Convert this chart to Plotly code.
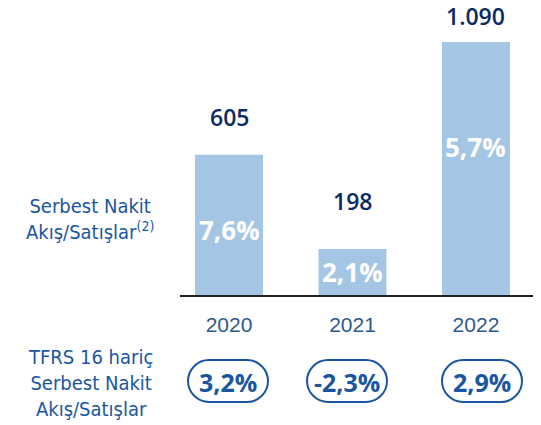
import plotly.graph_objects as go

years = ["2020", "2021", "2022"]
fcf_values = [605, 198, 1090]
fcf_labels = ["605", "198", "1.090"]
fcf_sales = ["7,6%", "2,1%", "5,7%"]
excl_tfrs16 = ["3,2%", "-2,3%", "2,9%"]
row_label_1 = "Serbest Nakit<br>Akış/Satışlar<sup>(2)</sup>"
row_label_2 = "TFRS 16 hariç<br>Serbest Nakit<br>Akış/Satışlar"

# styling: label offsets (px above bar top) and in-bar label height fractions
value_shift = [38, 48, 26]
pct_frac = [0.46, 0.49, 0.587]

BAR = "#a4c5e4"
NAVY = "#0c2a66"
BLUE = "#1a56a0"
YEARC = "#2d5a8c"
COND = "DejaVu Sans Condensed, Liberation Sans Narrow, sans-serif"
SANS = "Open Sans, Liberation Sans, sans-serif"

OFF = 8  # page body margin
W, H = 541 - OFF, 425 - OFF
L, R = 180 - OFF, 6
AXY = 295 - OFF
T, B = 0, H - AXY
PH = AXY - T
PW = W - L - R


def px(xs):
    return (xs - OFF - L) / PW


def py(ys):
    return (AXY - (ys - OFF)) / PH


fig = go.Figure()
fig.add_trace(go.Bar(
    x=years, y=fcf_values, width=0.55, marker=dict(color=BAR, line=dict(width=0)),
    hoverinfo="skip", showlegend=False,
))

for i, (v, lab, s) in enumerate(zip(fcf_values, fcf_labels, value_shift)):
    fig.add_annotation(x=i, y=v, xref="x", yref="y", text=lab, showarrow=False,
                       xanchor="center", yanchor="middle", yshift=s,
                       font=dict(family=SANS, size=23, color=NAVY, weight=600))

for i, (v, p, f) in enumerate(zip(fcf_values, fcf_sales, pct_frac)):
    fig.add_annotation(x=i, y=v * f, xref="x", yref="y", text="<b>" + p + "</b>",
                       showarrow=False, xanchor="center", yanchor="middle",
                       font=dict(family=SANS, size=26, color="white"))


def pill_path(cx, cy, w, h):
    r = h / 2
    x0, x1 = cx - w / 2 + r, cx + w / 2 - r
    k = r * 0.55
    return (f"M {px(x0)},{py(cy - r)} L {px(x1)},{py(cy - r)} "
            f"C {px(x1 + k)},{py(cy - r)} {px(x1 + r)},{py(cy - k)} {px(x1 + r)},{py(cy)} "
            f"C {px(x1 + r)},{py(cy + k)} {px(x1 + k)},{py(cy + r)} {px(x1)},{py(cy + r)} "
            f"L {px(x0)},{py(cy + r)} "
            f"C {px(x0 - k)},{py(cy + r)} {px(x0 - r)},{py(cy + k)} {px(x0 - r)},{py(cy)} "
            f"C {px(x0 - r)},{py(cy - k)} {px(x0 - k)},{py(cy - r)} {px(x0)},{py(cy - r)} Z")


pill_cx = [228, 347, 482]
for cx, t in zip(pill_cx, excl_tfrs16):
    fig.add_shape(type="path", xref="paper", yref="paper", path=pill_path(cx, 381, 80, 42),
                  line=dict(color=BLUE, width=2), fillcolor="white", layer="below")
    fig.add_annotation(x=px(cx), y=py(382), xref="paper", yref="paper", text="<b>" + t + "</b>",
                       showarrow=False, xanchor="center", yanchor="middle",
                       font=dict(family=SANS, size=25, color=BLUE))

fig.add_annotation(x=px(90), y=py(219), xref="paper", yref="paper",
                   text=row_label_1, showarrow=False, align="center",
                   xanchor="center", yanchor="middle",
                   font=dict(family=COND, size=20, color=BLUE))
fig.add_annotation(x=px(90), y=py(383), xref="paper", yref="paper",
                   text=row_label_2, showarrow=False, align="center",
                   xanchor="center", yanchor="middle",
                   font=dict(family=COND, size=20, color=BLUE))

fig.update_layout(
    width=W, height=H,
    margin=dict(l=L, r=R, t=T, b=B, pad=0),
    paper_bgcolor="white", plot_bgcolor="white",
    xaxis=dict(type="category", range=[-0.397, 2.478], showline=True, linecolor="#222",
               linewidth=2, ticks="", showgrid=False, zeroline=False,
               tickfont=dict(family="Liberation Sans, Arial, sans-serif", size=21, color=YEARC),
               ticklabelstandoff=10),
    yaxis=dict(range=[0, PH / 0.232], visible=False, showgrid=False, zeroline=False),
)

fig.write_html("out.html")
